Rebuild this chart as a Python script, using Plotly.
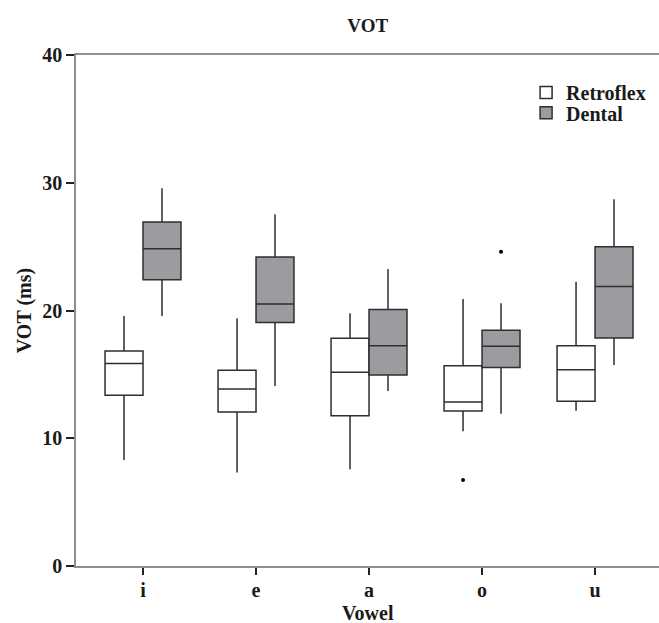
import plotly.graph_objects as go

vowels = ['i', 'e', 'a', 'o', 'u']

retro_lower = [8.30, 7.31, 7.57, 10.54, 12.16]
retro_q1 = [13.36, 12.05, 11.77, 12.13, 12.89]
retro_median = [15.86, 13.86, 15.16, 12.84, 15.37]
retro_q3 = [16.83, 15.32, 17.82, 15.68, 17.25]
retro_upper = [19.57, 19.39, 19.78, 20.90, 22.26]

dental_lower = [19.57, 14.09, 13.70, 11.92, 15.73]
dental_q1 = [22.41, 19.07, 14.95, 15.53, 17.85]
dental_median = [24.84, 20.51, 17.25, 17.20, 21.87]
dental_q3 = [26.93, 24.19, 20.07, 18.45, 25.00]
dental_upper = [29.56, 27.53, 23.25, 20.56, 28.70]

retro_outlier_vowel = ['o']
retro_outlier_value = [6.73]
dental_outlier_vowel = ['o']
dental_outlier_value = [24.60]

y_ticks = [0, 10, 20, 30, 40]

# style / layout constants
DODGE = 0.168
BOX_W = 0.336
FONT = "Liberation Serif"
TXT = "#1a1a1a"
LINE = "#2e2e2e"
AXIS = "#8e8e8e"

idx = list(range(len(vowels)))
retro_x = [i - DODGE for i in idx]
dental_x = [i + DODGE for i in idx]

fig = go.Figure()
fig.add_trace(go.Box(
    name="Retroflex", x=retro_x, q1=retro_q1, median=retro_median, q3=retro_q3,
    lowerfence=retro_lower, upperfence=retro_upper, width=BOX_W, whiskerwidth=0,
    fillcolor="white", line=dict(color=LINE, width=1.5), boxpoints=False,
    legend="legend",
))
fig.add_trace(go.Box(
    name="Dental", x=dental_x, q1=dental_q1, median=dental_median, q3=dental_q3,
    lowerfence=dental_lower, upperfence=dental_upper, width=BOX_W, whiskerwidth=0,
    fillcolor="#9c9ca0", line=dict(color=LINE, width=1.5), boxpoints=False,
    legend="legend2",
))
fig.add_trace(go.Scatter(
    x=[vowels.index(v) - DODGE for v in retro_outlier_vowel], y=retro_outlier_value,
    mode="markers", marker=dict(color="black", size=4), showlegend=False, hoverinfo="skip",
))
fig.add_trace(go.Scatter(
    x=[vowels.index(v) + DODGE for v in dental_outlier_vowel], y=dental_outlier_value,
    mode="markers", marker=dict(color="black", size=4), showlegend=False, hoverinfo="skip",
))

legend_style = dict(xanchor="left", yanchor="top", bgcolor="rgba(0,0,0,0)",
                    font=dict(family=FONT, size=20, color=TXT, weight="bold"))

fig.update_layout(
    width=659, height=623,
    margin=dict(l=76, r=0, t=55, b=57),
    paper_bgcolor="white", plot_bgcolor="white",
    font=dict(family=FONT, size=20, color=TXT),
    title=dict(text="<b>VOT</b>", x=0.558, xanchor="center", y=0.96, yanchor="middle",
               font=dict(family=FONT, size=19, color=TXT)),
    showlegend=True,
    legend=dict(x=0.772, y=0.965, **legend_style),
    legend2=dict(x=0.772, y=0.925, **legend_style),
    xaxis=dict(range=[-0.593, 4.566], tickvals=idx, ticktext=vowels, ticks="outside",
               ticklen=7, tickwidth=2, tickcolor="#222", showgrid=False, zeroline=False,
               showline=True, linecolor=AXIS, linewidth=1.5, mirror=True,
               ticklabelstandoff=-2,
               tickfont=dict(family=FONT, size=20, color=TXT, weight="bold")),
    yaxis=dict(range=[0, 40], tickvals=y_ticks, ticks="outside", ticklen=8,
               tickwidth=2, tickcolor="#222", showgrid=False, zeroline=False,
               showline=True, linecolor=AXIS, linewidth=1.5, ticklabelstandoff=0,
               tickfont=dict(family=FONT, size=20, color=TXT, weight="bold"),
               title=dict(text="<b>VOT (ms)</b>", standoff=5,
                          font=dict(family=FONT, size=20, color=TXT))),
    annotations=[dict(text="<b>Vowel</b>", xref="paper", x=0.5, yref="paper", y=-0.091,
                      xanchor="center", yanchor="middle", showarrow=False,
                      font=dict(family=FONT, size=20, color=TXT))],
)

fig.write_html("out.html")
